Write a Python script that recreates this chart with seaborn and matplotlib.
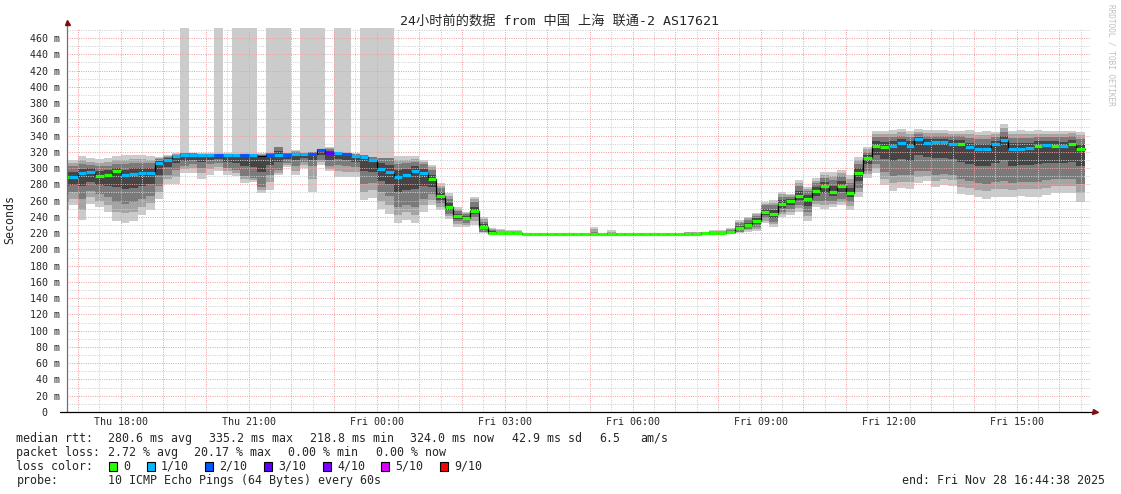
import numpy as np
import matplotlib
matplotlib.use("Agg")
import matplotlib.pyplot as plt
import seaborn as sns
from matplotlib.patches import Rectangle

# ---------------- data (12-minute buckets, first bucket starts Thu 16:36) ----------------
INF = np.inf  # lost pings -> smoke reaches the top
median = [289, 289, 293.5, 295, 290, 292, 296, 291.5, 293, 294.5,
          294, 306, 310, 315, 315.5, 315.5, 315.5, 315.5, 315.5, 315.5,
          315.5, 315.5, 315.5, 314.5, 316, 316, 316, 317, 317, 317,
          322, 318.5, 318.5, 317.4, 315, 313.3, 309.5, 299, 295.5, 289.5,
          292, 297, 293.6, 286, 265.7, 252.6, 240.5, 238.7, 247.4, 227.5,
          220.6, 219.8, 220.2, 220.2, 218.8, 218.8, 218.8, 218.8, 218.8, 218.8,
          218.8, 218.8, 218.8, 218.8, 218.8, 218.8, 218.8, 218.8, 218.8, 218.8,
          218.8, 218.8, 218.8, 219.5, 219.5, 219.8, 219.8, 219.8, 221.4, 226,
          230, 235.5, 246.5, 243, 255.7, 259.8, 266, 261.6, 272.3, 278.4,
          271, 278.4, 269.8, 294.4, 312, 327.6, 326.4, 327.6, 330.5, 327.6,
          335.2, 330.5, 331.7, 331.7, 329.3, 329.3, 325.6, 324, 323.5, 329.3,
          335, 324, 323.5, 324.8, 327.6, 328.5, 327.6, 326.8, 330.1, 324]
rtt_min = [248, 254, 236, 256, 252, 246, 235, 233, 235, 242,
           248, 262, 280, 280, 294, 294, 287, 292, 296, 292,
           290, 282, 283, 269, 273, 291, 301.7, 291, 300, 271,
           304, 296, 289, 289.5, 289, 261, 263, 250, 244, 232,
           236, 232, 246.5, 254.6, 248.5, 237, 228, 228, 230, 219.8,
           218.5, 218.5, 218.5, 218.5, 218.3, 218.3, 218.3, 218.3, 218.3, 218.3,
           218.3, 218.3, 218.3, 218.3, 218.3, 218.3, 218.3, 218.3, 218.3, 218.3,
           218.3, 218.3, 218.3, 219, 219, 219, 219, 219, 219.5, 219.8,
           221.9, 223, 232, 228, 240.3, 242.4, 246.5, 235, 252.6, 249.3,
           252.6, 254.6, 248.5, 265, 287.4, 294.4, 279.3, 272.3, 275, 274,
           281.3, 284.6, 276.4, 279.3, 278, 268.2, 267, 264, 262, 264.9,
           264.9, 264, 265.7, 264.9, 264.9, 267, 269.8, 269, 269, 258.7]
rtt_q1 = [268, 270, 262, 272, 268, 264, 258, 256, 258, 262,
          266, 278, 292, 298, 303, 305, 300, 305, 306, 300,
          298, 290, 288, 277, 292, 298, 306, 303, 308, 303,
          310, 302, 304, 302, 301, 280, 282, 270, 266, 252,
          255, 252, 262, 268, 257, 244, 235, 233, 240, 222,
          219.5, 219, 219, 219, 218.6, 218.6, 218.6, 218.6, 218.6, 218.6,
          218.6, 218.6, 218.6, 218.6, 218.6, 218.6, 218.6, 218.6, 218.6, 218.6,
          218.6, 218.6, 218.6, 219.3, 219.3, 219.4, 219.4, 219.4, 220.5, 222,
          225, 228, 238, 234, 246, 250, 255, 246, 260, 260,
          260, 262, 258, 275, 297, 305, 295, 290, 292, 291,
          296, 296, 292, 293, 292, 286, 284, 282, 281, 283,
          284, 282, 283, 283, 283, 285, 286, 286, 286, 280]
rtt_q3 = [302, 302, 305, 304, 302, 303, 305, 305, 306, 306,
          306, 311, 314, 316, 318, 318, 317, 317, 317, 317,
          317, 317, 317, 316, 318, 326, 318, 320, 319, 320,
          324, 324, 320, 319, 317, 316, 314, 313, 312, 305,
          306, 308, 305, 298, 275, 262, 247, 243, 258, 234,
          224, 222, 222, 221.5, 219.3, 219.3, 219.3, 219.3, 219.3, 219.3,
          219.3, 219.3, 221, 219.3, 220, 219.3, 219.3, 219.3, 219.3, 219.3,
          219.3, 219.3, 219.3, 220.5, 220.5, 221, 222, 221.5, 224, 232,
          236, 241, 254, 254, 265, 265, 278, 272, 282, 288,
          285, 290, 282, 305, 320, 338, 338, 338, 340, 338,
          342, 340, 340, 340, 339, 339, 337, 336, 336, 338,
          345, 337, 337, 337, 338, 338, 338, 338, 340, 336]
rtt_max = [310, 310, 315, 312, 311, 312, 315, 316, 316, 316,
           315, 314, 316, 318, INF, 319, 318, 318, INF, 318,
           INF, INF, INF, 318, INF, INF, INF, 322, INF, INF,
           INF, 326, INF, INF, 318, INF, INF, INF, INF, 315,
           315, 315, 310, 304, 282, 269, 252.6, 246.5, 265, 240,
           226, 224.7, 224, 223.5, 219.8, 219.8, 219.8, 219.8, 219.8, 219.8,
           219.8, 219.8, 228, 219.8, 224, 219.8, 219.8, 219.8, 219.8, 219.8,
           219.8, 219.8, 219.8, 221.4, 221.4, 222, 224, 223.5, 226, 236,
           240.3, 245.2, 258.8, 260.8, 271, 267.8, 285.4, 277, 287.4, 295.6,
           295, 297.7, 291.5, 314, 326.4, 345.7, 345.7, 347, 347.7, 346,
           347.7, 347, 347, 347, 346, 345.7, 347, 344.8, 346, 344.8,
           354.3, 346, 347, 346, 347, 346, 346, 346, 346, 344.8]
loss = [0, 1, 1, 1, 0, 0, 0, 1, 1, 1,
        1, 1, 1, 1, 1, 1, 1, 1, 2, 1,
        1, 2, 1, -1, 2, 1, 2, 1, 1, 2,
        2, 3, 1, 2, 1, 1, 1, 1, 1, 1,
        1, 1, 1, 0, 0, 0, 0, 0, 0, 0,
        0, 0, 0, 0, 0, 0, 0, 0, 0, 0,
        0, 0, 0, 0, 0, 0, 0, 0, 0, 0,
        0, 0, 0, 0, 0, 0, 0, 0, 0, 0,
        0, 0, 0, 0, 0, 0, 0, 0, 0, 0,
        0, 0, 0, 0, 0, 0, 0, 1, 1, 1,
        1, 1, 1, 1, 1, 0, 1, 1, 1, 1,
        1, 1, 1, 1, 0, 1, 0, 1, 0, 0]

loss_colors = {0: "#26ff00", 1: "#00b8ff", 2: "#0059ff", 3: "#5e00ff",
               4: "#7e00ff", 5: "#dd00ff", 9: "#ff0000"}
loss_labels = ["0", "1/10", "2/10", "3/10", "4/10", "5/10", "9/10"]
loss_keys = [0, 1, 2, 3, 4, 5, 9]

title = "24小时前的数据 from 中国 上海 联通-2 AS17621"
stats_rtt = ["median rtt:", "280.6 ms avg", "335.2 ms max", "218.8 ms min",
             "324.0 ms now", "42.9 ms sd", "6.5", "am/s"]
stats_loss = ["packet loss:", "2.72 % avg", "20.17 % max", "0.00 % min", "0.00 % now"]
probe_text = ["probe:", "10 ICMP Echo Pings (64 Bytes) every 60s"]
end_text = "end: Fri Nov 28 16:44:38 2025"

# ---------------- setup ----------------
sns.set_style("white")
plt.rcParams['font.family'] = ['DejaVu Sans Mono', 'Noto Sans CJK SC']

W, H = 1121, 494
fig = plt.figure(figsize=(W / 100, H / 100), dpi=100)
ax = fig.add_axes([67 / W, 82 / H, 1024 / W, 384 / H])

t_start = 16 + 44 / 60 + 38 / 3600          # Thu 16:44:38 in hours after Thu 00:00
t_end = t_start + 24
YTOP = 472.3
n = len(median)
step = 12 / 60
edges = 16.6 + step * np.arange(n + 1)      # bucket boundaries (hours)

med = np.array(median, float)
mn = np.array(rtt_min, float)
q1 = np.array(rtt_q1, float)
q3 = np.array(rtt_q3, float)
mx = np.array(rtt_max, float)

mx_draw = np.minimum(mx, YTOP + 10)
lo2 = (mn + q1) / 2
hi2 = np.where(np.isinf(mx), q3, (q3 + np.minimum(mx, 1e9)) / 2)
lo4 = (q1 + med) / 2
hi4 = (med + q3) / 2

def ext(a):
    return np.append(a, a[-1])

layers = [(mn, mx_draw, "#cbcbcb"), (lo2, hi2, "#a4a4a4"),
          (q1, q3, "#7a7a7a"), (lo4, hi4, "#454545")]
for lo, hi, c in layers:
    ax.fill_between(edges, ext(lo), ext(hi), step="post", color=c, linewidth=0, zorder=1)

# black median step line
sns.lineplot(x=edges, y=ext(med), drawstyle="steps-post", color="black",
             linewidth=0.9, estimator=None, sort=False, ax=ax, zorder=3)
# loss-coloured median segments
for k in range(n):
    if loss[k] in loss_colors:
        ax.hlines(med[k], edges[k], edges[k + 1], colors=loss_colors[loss[k]],
                  linewidth=2.3, zorder=4, capstyle="butt")

ax.set_xlim(t_start, t_end)
ax.set_ylim(0, YTOP)

# ticks & grid
hours = np.arange(17, 41)
ax.set_xticks(hours)
ax.set_xticks(np.arange(17.5, 41, 1), minor=True)
ax.set_xticklabels([("Thu" if h < 24 else "Fri") + f" {h % 24:02d}:00" if h % 3 == 0 else ""
                    for h in hours])
yt = np.arange(0, 461, 20)
ax.set_yticks(yt)
ax.set_yticks(np.arange(10, 471, 20), minor=True)
ax.set_yticklabels(["0  " if v == 0 else f"{v} m" for v in yt])

ax.grid(which="major", color="#f3a0a0", linewidth=0.72, linestyle=(0, (1, 1.3)), zorder=2.5)
ax.grid(which="minor", color="#cfcfcf", linewidth=0.72, linestyle=(0, (1, 1.3)), zorder=2.4)
ax.set_axisbelow(False)
ax.tick_params(which="major", length=2.2, width=0.7, color="#ff8080", labelsize=7.2, pad=1.6)
ax.tick_params(which="minor", length=1.6, width=0.7, color="#b8b8b8")
ax.tick_params(axis="y", which="major", pad=2.9)
for s in ax.spines.values():
    s.set_visible(False)
ax.set_xlabel("")
ax.set_ylabel("")

# axes lines with arrows
ax.plot([0, 0], [0, 1 + 6 / 384], transform=ax.transAxes, color="#707070", lw=0.9, clip_on=False, zorder=5)
ax.plot([-7 / 1024, 1 + 4 / 1024], [0, 0], transform=ax.transAxes, color="black", lw=0.9, clip_on=False, zorder=5)
ax.plot([0], [1 + 6 / 384], marker="^", ms=3.6, color="#7f1010", transform=ax.transAxes, clip_on=False, zorder=6)
ax.plot([1 + 4 / 1024], [0], marker=">", ms=3.6, color="#7f1010", transform=ax.transAxes, clip_on=False, zorder=6)

# texts
def ftext(x, y, s, **kw):
    fig.text(x / W, 1 - y / H, s, **kw)

ftext(560, 21, title, ha="center", va="center", fontsize=9.5)
ftext(10, 219, "Seconds", rotation=90, ha="center", va="center", fontsize=8.4)
ftext(1111, 4, "RRDTOOL / TOBI OETIKER", rotation=270, ha="center", va="top",
      fontsize=5.6, color="#c0c0c0")

xs_rtt = [16.5, 108, 209, 310, 410, 512, 599, 640]
for x, s in zip(xs_rtt, stats_rtt):
    ftext(x, 438, s, va="center", fontsize=8.4)
xs_loss = [16.5, 107.5, 194.5, 288, 376]
for x, s in zip(xs_loss, stats_loss):
    ftext(x, 452, s, va="center", fontsize=8.4)
ftext(16.5, 466, "loss color:", va="center", fontsize=8.4)
sq_x = [109, 147, 205, 264, 323, 381, 440]
for x, key, lab in zip(sq_x, loss_keys, loss_labels):
    fig.patches.append(Rectangle((x / W, 1 - 470.5 / H), 8 / W, 8.5 / H, transform=fig.transFigure,
                                 facecolor=loss_colors[key], edgecolor="black", linewidth=0.8))
    ftext(x + 14, 466, lab, va="center", fontsize=8.4)
for x, s in zip([16.5, 108], probe_text):
    ftext(x, 480, s, va="center", fontsize=8.4)
ftext(1105, 480, end_text, ha="right", va="center", fontsize=8.4)

fig.savefig("out.png", dpi=100)
